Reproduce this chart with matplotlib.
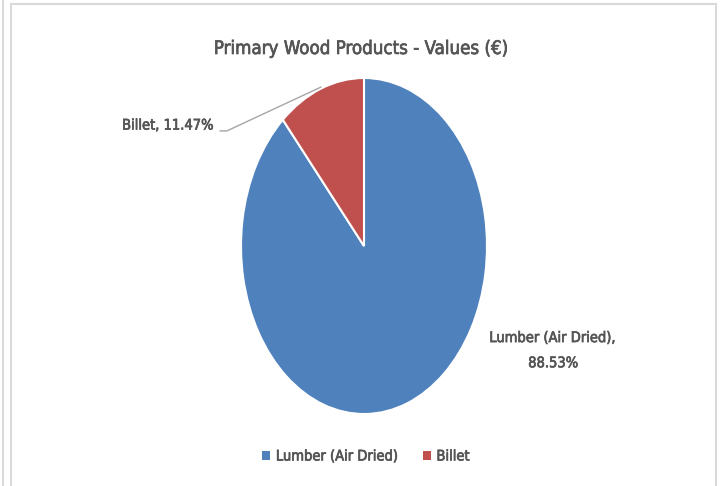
import matplotlib
matplotlib.use("Agg")
import matplotlib.pyplot as plt
import matplotlib.patheffects as pe
from matplotlib.lines import Line2D
from matplotlib.patches import Patch

# data
categories = ["Lumber (Air Dried)", "Billet"]
shares = [88.53, 11.47]
colors = ["#4F81BD", "#C0504D"]
title = "Primary Wood Products - Values (€)"

txt = "#555555"
plt.rcParams["font.family"] = ["DejaVu Sans"]
plt.rcParams["font.stretch"] = "condensed"
thick = [pe.withStroke(linewidth=0.5, foreground=txt)]

W, H = 724, 486
fig = plt.figure(figsize=(W / 100, H / 100), dpi=100)

# frame lines like the spreadsheet screenshot
def px(x, y):
    return x / W, 1 - y / H

for (x0, y0), (x1, y1) in [((3, 0), (3, 486)), ((11, 486), (11, 4)),
                           ((11, 4), (716, 4)), ((716, 4), (716, 486))]:
    a, b = px(x0, y0)
    c, d = px(x1, y1)
    fig.add_artist(Line2D([a, c], [b, d], color="#d9d9d9", lw=1.5))

fig.text(px(361, 54)[0], px(361, 54)[1], title, ha="center", va="baseline",
         fontsize=13.4, color=txt, path_effects=thick)

# pie squeezed into an ellipse like the original
ax = fig.add_axes([241 / W, 72 / H, 246 / W, 336 / H])
wedges, _ = ax.pie(shares, colors=colors, startangle=90, counterclock=False,
                   wedgeprops=dict(edgecolor="white", linewidth=1.5))
ax.set_aspect("auto")
ax.set_xlim(-1, 1)
ax.set_ylim(-1, 1)

# data labels
ax.text(1.537, -0.62, f"{categories[0]},\n{shares[0]:.2f}%", ha="center",
        va="center", fontsize=10.5, color=txt, linespacing=1.85,
        path_effects=thick)
ax.text(-1.22, 0.72, f"{categories[1]}, {shares[1]:.2f}%", ha="right",
        va="center", fontsize=10.5, color=txt, path_effects=thick)
ax.annotate("", xy=(-0.35, 0.946), xytext=(-1.171, 0.685),
            arrowprops=dict(arrowstyle="-", color="#a6a6a6", lw=1,
                            shrinkA=0, shrinkB=0,
                            connectionstyle="angle,angleA=0,angleB=25,rad=0"))

handles = [Patch(facecolor=c, edgecolor="none") for c in colors]
leg = fig.legend(handles, categories, loc="center", bbox_to_anchor=px(366, 456),
                 ncol=2, frameon=False, fontsize=10.5, labelcolor=txt,
                 handlelength=0.55, handleheight=0.55, handletextpad=0.4,
                 columnspacing=1.6)
for t in leg.get_texts():
    t.set_path_effects(thick)

fig.savefig("out.png", dpi=100)
